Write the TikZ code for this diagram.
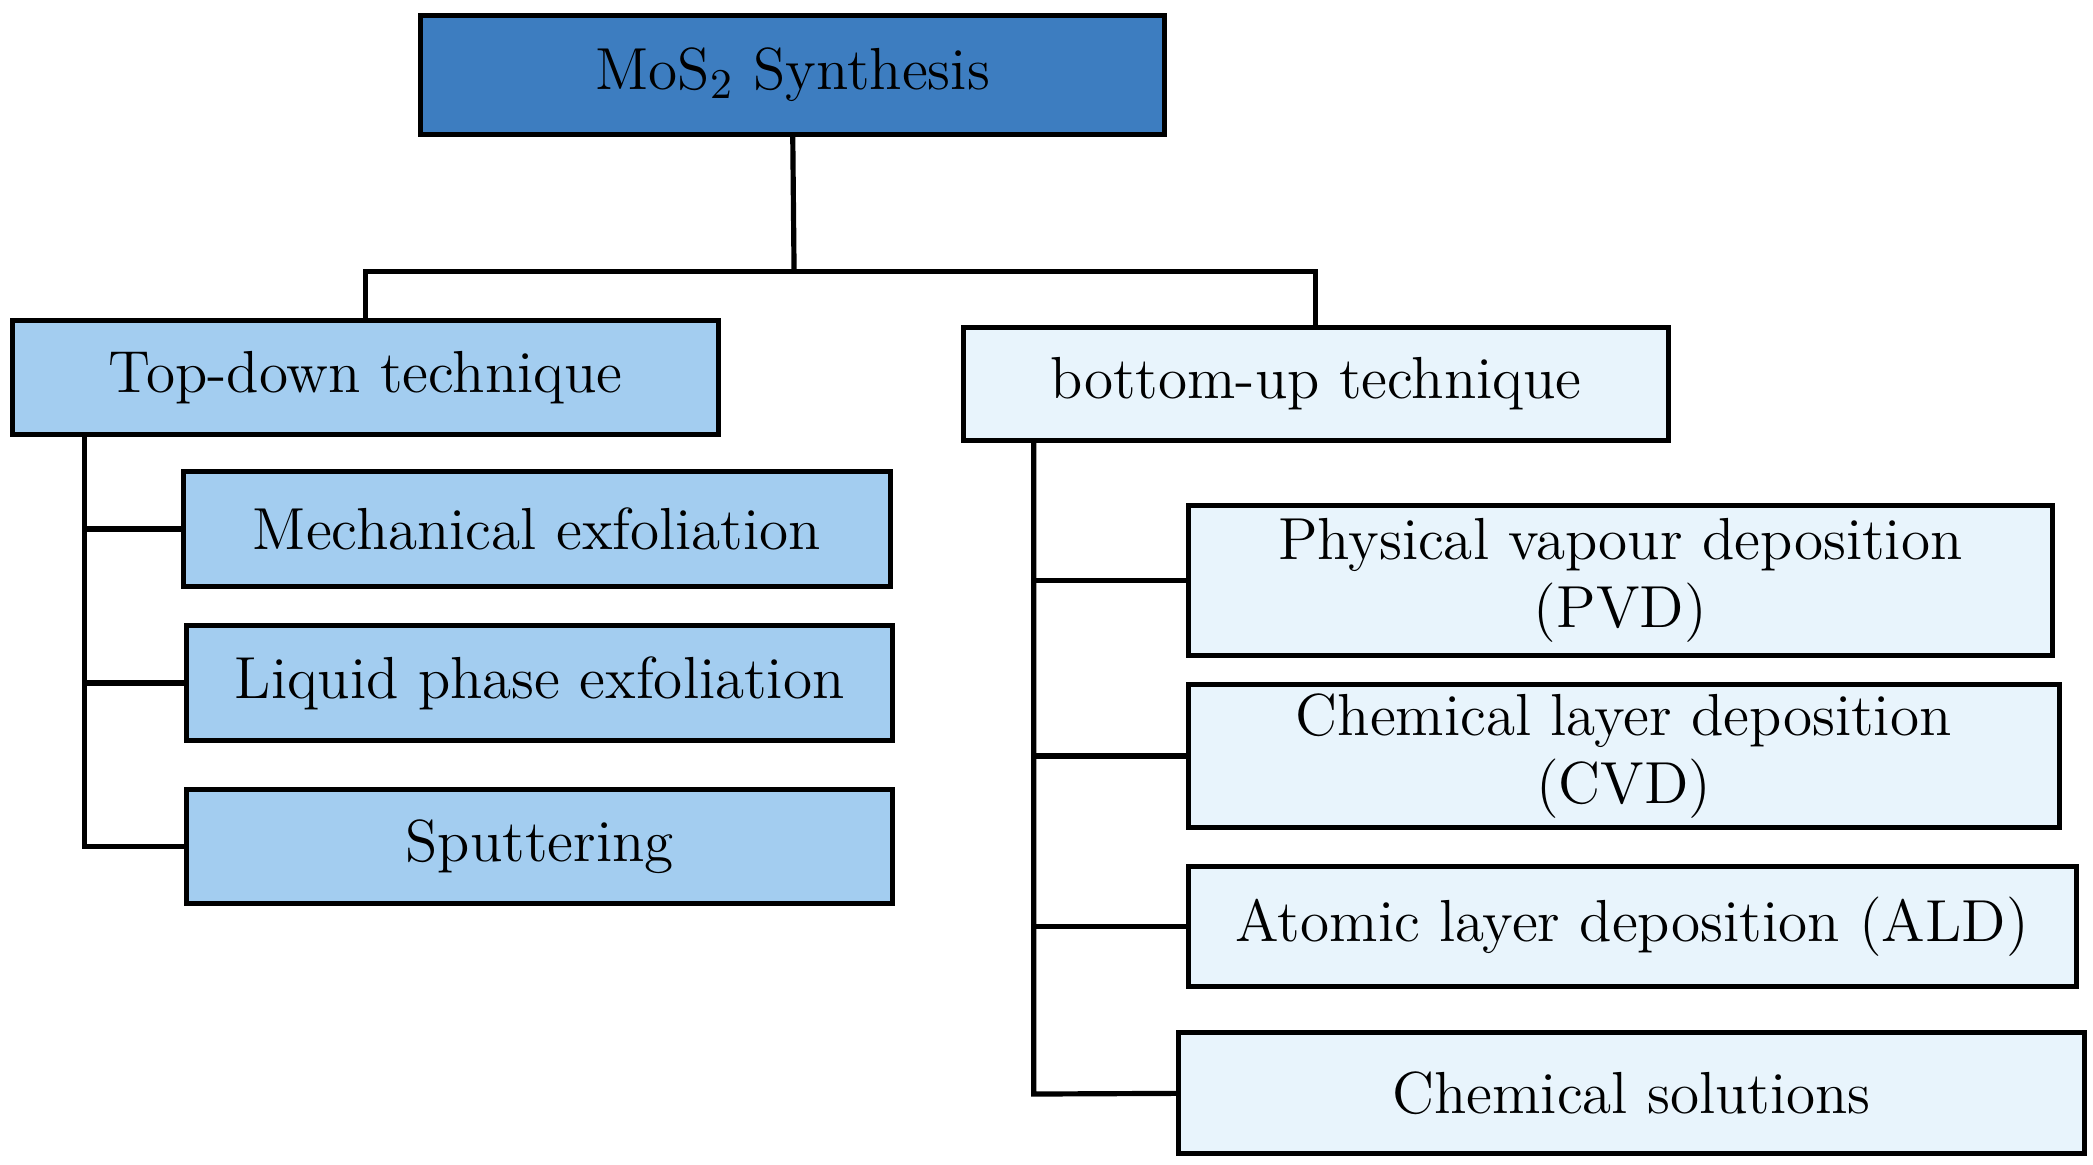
\documentclass[tikz,border=0pt]{standalone}
\begin{document}
\definecolor{dk}{HTML}{3D7DC0}
\definecolor{md}{HTML}{A3CDF0}
\definecolor{lt}{HTML}{E8F4FC}
\newcommand{\bbox}[7]{%
\node[draw=none,minimum width={(#4-#2)*0.01cm},minimum height={(#5-#3)*0.01cm},inner sep=0pt,align=center,font=\fontsize{12.6}{14.5}\selectfont] (#1) at ({(#2+#4)/2},{-(#3+#5)/2}) {};
\fill[black!45] ([shift={(0.06,-0.06)}]#1.north west) rectangle ([shift={(0.06,-0.06)}]#1.south east);
\fill[#6] (#1.north west) rectangle (#1.south east);
\fill[#6!45!white] (#1.north west) -- (#1.north east) -- ([shift={(-0.1,-0.1)}]#1.north east) -- ([shift={(0.1,-0.1)}]#1.north west) -- cycle;
\fill[#6!75!white] (#1.north west) -- (#1.south west) -- ([shift={(0.1,0.1)}]#1.south west) -- ([shift={(0.1,-0.1)}]#1.north west) -- cycle;
\fill[#6!70!black] (#1.south west) -- (#1.south east) -- ([shift={(-0.1,0.1)}]#1.south east) -- ([shift={(0.1,0.1)}]#1.south west) -- cycle;
\fill[#6!82!black] (#1.north east) -- (#1.south east) -- ([shift={(-0.1,0.1)}]#1.south east) -- ([shift={(-0.1,-0.1)}]#1.north east) -- cycle;
\draw[line width=1.1pt] (#1.north west) rectangle (#1.south east);
\node[align=center,font=\fontsize{12.6}{14.5}\selectfont] at (#1.center) {#7};
}
\begin{tikzpicture}[x=0.01cm,y=0.01cm,conn/.style={line width=1.1pt}]
\useasboundingbox (0,0) rectangle (1563,-870);
\bbox{mos}{315}{12}{869}{100}{dk}{MoS$_2$ Synthesis}
\bbox{td}{10}{240}{536}{324}{md}{Top-down technique}
\bbox{bu}{720}{245}{1245}{328}{lt}{bottom-up technique}
\bbox{me}{138}{353}{664}{437}{md}{Mechanical exfoliation}
\bbox{li}{140}{468}{666}{552}{md}{Liquid phase exfoliation}
\bbox{sp}{140}{590}{666}{674}{md}{Sputtering}
\bbox{pvd}{888}{378}{1532}{489}{lt}{Physical vapour deposition\\(PVD)}
\bbox{cvd}{888}{512}{1537}{617}{lt}{Chemical layer deposition\\(CVD)}
\bbox{ald}{888}{648}{1550}{736}{lt}{Atomic layer deposition (ALD)}
\bbox{cs}{881}{772}{1556}{861}{lt}{Chemical solutions}
\coordinate (j) at (593,-203);
\coordinate (tl) at (63,-632);
\coordinate (bl) at (772,-817);
\draw[conn] (mos.south) -- (j);
\draw[conn] (td.north) |- (j) -| (bu.north);
\draw[conn] (td.south -| tl) -- (tl) -- (sp.west);
\draw[conn] (me.west) -- (me.west -| tl);
\draw[conn] (li.west) -- (li.west -| tl);
\draw[conn] (bu.south -| bl) -- (bl) -- (cs.west);
\draw[conn] (pvd.west) -- (pvd.west -| bl);
\draw[conn] (cvd.west) -- (cvd.west -| bl);
\draw[conn] (ald.west) -- (ald.west -| bl);
\end{tikzpicture}
\end{document}
